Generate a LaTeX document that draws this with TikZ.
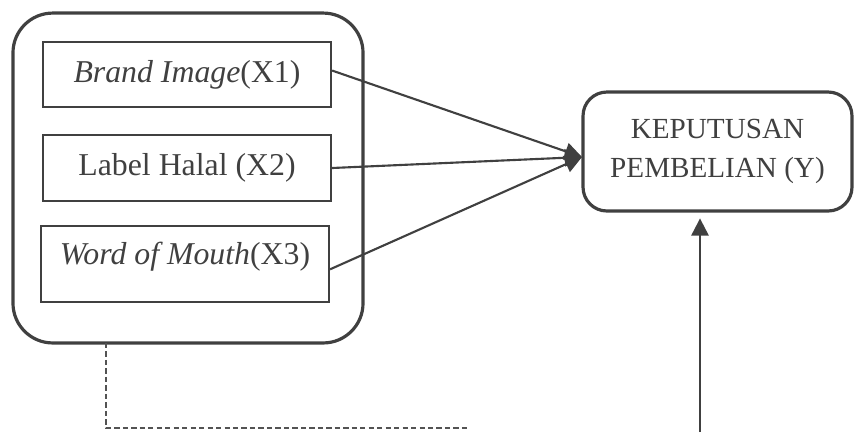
\documentclass[tikz,border=0pt]{standalone}
\usepackage{fontspec}
\setmainfont{Liberation Serif}
\usetikzlibrary{arrows.meta}
\definecolor{ink}{HTML}{404040}
\begin{document}
\begin{tikzpicture}[x=0.3774pt, y=-0.3774pt]
\tikzset{varbox/.style={draw=ink, line width=0.8pt, rectangle, minimum width=108.7pt, text=ink, font=\fontsize{12}{14.4}\selectfont},
groupbox/.style={draw=ink, line width=1.2pt, rectangle, rounded corners=15pt, minimum width=132.1pt, minimum height=124.5pt},
ybox/.style={draw=ink, line width=1.2pt, rectangle, rounded corners=9pt, minimum width=101.5pt, minimum height=44.9pt, align=center, text=ink, font=\fontsize{11}{15}\selectfont},
link/.style={draw=ink, line width=0.8pt, -{Triangle[length=6.5pt, width=6.5pt]}},
dashline/.style={draw=ink!90, line width=0.45pt, dash pattern=on 2pt off 1.2pt}}
\useasboundingbox (0,0) rectangle (854,432);
\node[groupbox] (grp) at (188,178) {};
\node[varbox, minimum height=24.5pt] (X1) at (187,74.5) {\textit{Brand Image}(X1)};
\node[varbox, minimum height=24.9pt] (X2) at (187,168) {Label Halal (X2)};
\node[varbox, minimum height=28.7pt, text depth=7.8pt] (X3) at (185,264) {\textit{Word of Mouth}(X3)};
\node[ybox] (Y) at (717.5,151.5) {KEPUTUSAN\\PEMBELIAN (Y)};
\coordinate (join) at (582,157);
\coordinate (vbot) at (700,432);
\coordinate (dtop) at (106,343);
\coordinate (dend) at (470,428);
\draw[link] ([yshift=1.5pt]X1.east) -- (join);
\draw[link] (X2.east) -- (join);
\draw[link] ([yshift=-2pt]X3.east) -- (join);
\draw[link] (vbot) -- ([yshift=-2.2pt]vbot |- Y.south);
\draw[dashline] (dtop) |- (dend);
\end{tikzpicture}
\end{document}
